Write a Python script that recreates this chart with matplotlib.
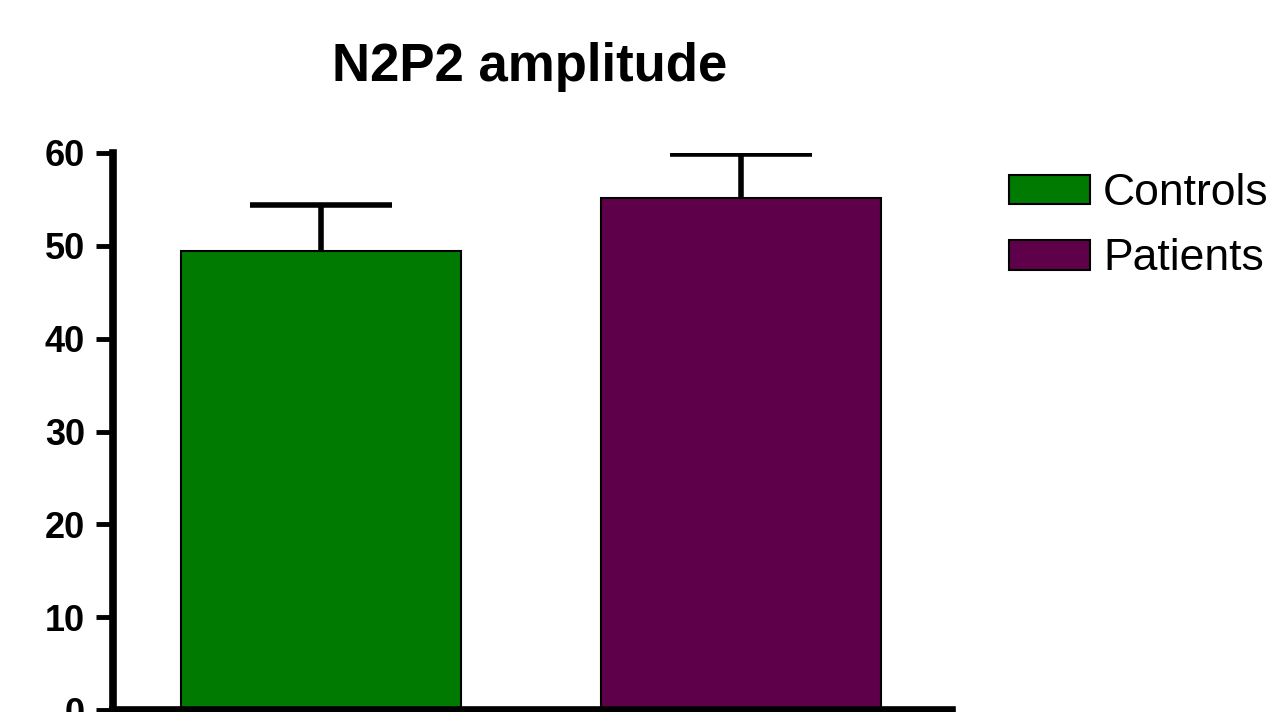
import matplotlib.pyplot as plt

# Values
groups = ["Controls", "Patients"]
means = [49.4, 55.2]
errors = [5.0, 4.7]
colors = ["#007a00", "#5e004a"]
yticks = [0, 10, 20, 30, 40, 50, 60]

plt.rcParams["font.family"] = ["Liberation Sans", "DejaVu Sans"]

fig = plt.figure(figsize=(12.67, 7.12), dpi=100)
ax = fig.add_axes([113 / 1267, 1 - 710 / 712, (952 - 113) / 1267, (710 - 153) / 712])

x = list(range(len(groups)))
for i in x:
    ax.bar(i, means[i], width=0.667, color=colors[i], edgecolor="black",
           linewidth=1.5, label=groups[i], zorder=2)
    eb = ax.errorbar(i, means[i], yerr=[[0], [errors[i]]], fmt="none", ecolor="black",
                     elinewidth=4, capsize=51, capthick=4, zorder=1)
    # only the upper cap is shown
    eb[1][0].set_visible(False)

ax.set_xlim(-0.495, 1.502)
ax.set_ylim(0, 60)
ax.set_yticks(yticks)
ax.set_xticks([])
for t in ax.get_yticklabels():
    t.set_fontweight("bold")
ax.tick_params(axis="y", labelsize=26, length=12, width=3.5, pad=8)

for s in ["top", "right"]:
    ax.spines[s].set_visible(False)
ax.spines["left"].set_linewidth(5.5)
ax.spines["bottom"].set_linewidth(5.5)
ax.spines["left"].set_capstyle("projecting")

fig.text(530 / 1267, 1 - 67 / 712, "N2P2 amplitude", ha="center", va="center",
         fontsize=38, fontweight="bold")

leg = ax.legend(loc="upper left", bbox_to_anchor=(1009 / 1267, 1 - 173 / 712),
                bbox_transform=fig.transFigure, frameon=False, fontsize=32,
                handlelength=1.82, handleheight=0.64, handletextpad=0.3,
                labelspacing=0.55, borderpad=0, borderaxespad=0)

fig.savefig("out.png", dpi=100)
